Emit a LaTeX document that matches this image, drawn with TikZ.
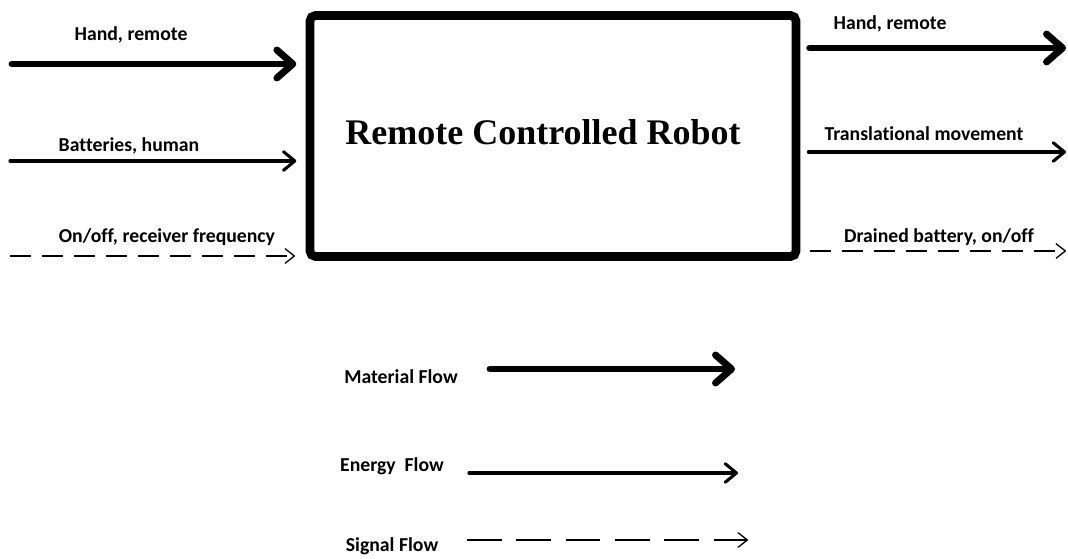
\documentclass[tikz,border=0pt]{standalone}
\usepackage{fontspec}
\setmainfont{Liberation Serif}
\newfontfamily\lblfont[Ligatures=NoCommon]{Carlito}
\usetikzlibrary{arrows.meta, positioning}

\begin{document}
\begin{tikzpicture}[x=0.75pt, y=-0.75pt,
        robotbox/.style={rectangle, draw, line width=6.5pt, rounded corners=4pt, inner sep=0pt, minimum width=364.5pt, minimum height=180.75pt},
        lbl/.style={inner sep=0pt, font=\lblfont\fontsize{14.8}{17}\selectfont\bfseries},
        material/.style={line width=5.2pt, line cap=round, -{Straight Barb[length=12pt, width=21pt, line cap=round, line join=round]}},
        energy/.style={line width=2.3pt, line cap=round, -{Straight Barb[length=8.5pt, width=14pt, line cap=round, line join=round]}},
        signal/.style={line width=1pt, dash pattern=on 16pt off 8pt, -{Straight Barb[length=7pt, width=11pt, line join=round]}}
    ]
        \useasboundingbox (0,0) rectangle (1068,559);
        % the robot
        \node[robotbox] (robot) at (553,136) {};
        \node[font=\fontsize{27}{32}\selectfont\bfseries] (title) at (543,132) {Remote Controlled Robot};
        % inputs
        \coordinate (in1) at (12,64);
        \coordinate (in2) at (10,161);
        \coordinate (in3) at (10,256);
        \node[lbl] (inlbl1) at (131,35) {Hand, remote};
        \node[lbl] (inlbl2) at (129,146) {Batteries, human};
        \node[lbl] (inlbl3) at (167,237) {On/off, receiver frequency};
        \draw[material, shorten >=7pt] (in1) -- (in1 -| robot.west);
        \draw[energy, shorten >=7pt] (in2) -- (in2 -| robot.west);
        \draw[signal, shorten >=8pt] (in3) -- (in3 -| robot.west);
        % outputs
        \coordinate (out1) at (1066,48);
        \coordinate (out2) at (1066,152);
        \coordinate (out3) at (1066,251);
        \node[lbl] (outlbl1) at (890,24) {Hand, remote};
        \node[lbl] (outlbl2) at (924,134) {Translational movement};
        \node[lbl] (outlbl3) at (939,237) {Drained battery, on/off};
        \draw[material, shorten <=7pt] (out1 -| robot.east) -- (out1);
        \draw[energy, shorten <=6pt] (out2 -| robot.east) -- (out2);
        \draw[signal, shorten <=7pt] (out3 -| robot.east) -- (out3);
        % legend
        \node[lbl] (matlbl) at (401,377) {Material Flow};
        \node[lbl] (enlbl) at (392,466) {Energy\ \ Flow};
        \node[lbl] (siglbl) at (392,546) {Signal Flow};
        \coordinate (mat1) at (490,369);
        \coordinate (mat2) at (735,369);
        \coordinate (en1) at (469,473);
        \coordinate (en2) at (738,473);
        \coordinate (sig1) at (467,540);
        \coordinate (sig2) at (748,540);
        \draw[material] (mat1) -- (mat2);
        \draw[energy] (en1) -- (en2);
        \draw[signal, dash pattern=on 26pt off 11pt] (sig1) -- (sig2);
    \end{tikzpicture}
\end{document}
